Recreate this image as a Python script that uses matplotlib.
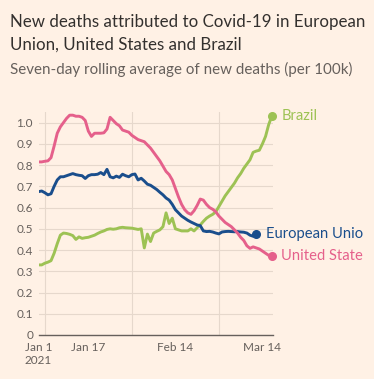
import matplotlib
matplotlib.use('Agg')
import matplotlib.pyplot as plt
import pandas as pd

# ── data (seven-day rolling average of new deaths per 100k, daily from Jan 1 2021) ──
us = [0.815, 0.815, 0.818, 0.82, 0.835, 0.89, 0.95, 0.98, 1.0, 1.02,
      1.035, 1.035, 1.03, 1.03, 1.025, 1.01, 0.96, 0.935, 0.95, 0.95,
      0.95, 0.952, 0.97, 1.025, 1.01, 0.995, 0.985, 0.965, 0.96, 0.955,
      0.94, 0.93, 0.92, 0.915, 0.91, 0.895, 0.88, 0.86, 0.84, 0.82,
      0.795, 0.77, 0.755, 0.73, 0.69, 0.65, 0.615, 0.59, 0.575, 0.568,
      0.585, 0.61, 0.64, 0.635, 0.615, 0.6, 0.592, 0.58, 0.56, 0.545,
      0.53, 0.52, 0.51, 0.495, 0.48, 0.46, 0.445, 0.42, 0.408, 0.415,
      0.41, 0.405, 0.395, 0.385, 0.375, 0.37]
eu = [0.675, 0.678, 0.67, 0.66, 0.665, 0.7, 0.73, 0.745, 0.745, 0.75,
      0.755, 0.76, 0.755, 0.752, 0.75, 0.737, 0.75, 0.755, 0.755, 0.757,
      0.765, 0.755, 0.78, 0.745, 0.74, 0.748, 0.742, 0.757, 0.75, 0.745,
      0.755, 0.758, 0.73, 0.738, 0.725, 0.71, 0.705, 0.695, 0.685, 0.672,
      0.66, 0.645, 0.635, 0.615, 0.59, 0.575, 0.56, 0.55, 0.54, 0.532,
      0.525, 0.518, 0.515, 0.49, 0.487, 0.488, 0.485, 0.48, 0.476, 0.485,
      0.487, 0.488, 0.487, 0.486, 0.487, 0.485, 0.484, 0.48, 0.47, 0.465,
      0.475]
brazil = [0.33, 0.33, 0.338, 0.343, 0.35, 0.385, 0.43, 0.47, 0.48, 0.478,
          0.474, 0.468, 0.45, 0.462, 0.455, 0.458, 0.46, 0.465, 0.47, 0.478,
          0.485, 0.49, 0.497, 0.5, 0.498, 0.5, 0.505, 0.507, 0.505, 0.504,
          0.503, 0.5, 0.497, 0.5, 0.41, 0.475, 0.44, 0.48, 0.488, 0.495,
          0.51, 0.575, 0.525, 0.55, 0.5, 0.495, 0.49, 0.49, 0.49, 0.5,
          0.49, 0.505, 0.518, 0.535, 0.55, 0.56, 0.568, 0.58, 0.605, 0.63,
          0.655, 0.675, 0.695, 0.715, 0.74, 0.76, 0.785, 0.805, 0.825, 0.86,
          0.866, 0.87, 0.9, 0.935, 0.99, 1.03]

series = [('Brazil', brazil, '#9dc254'),
          ('European Unio', eu, '#1a4e8c'),
          ('United State', us, '#e5608b')]

BG = '#fff1e5'
GRID = '#e6d8cc'
TXT = '#33302e'
MUTED = '#66605c'

plt.rcParams['font.family'] = ['Lato', 'DejaVu Sans']

fig = plt.figure(figsize=(3.74, 3.79), dpi=100, facecolor=BG)
ax = fig.add_axes([0.1032, 0.1161, 0.6276, 0.5884], facecolor=BG)

start = pd.Timestamp('2021-01-01')
for name, vals, col in series:
    d = pd.date_range(start, periods=len(vals), freq='D')
    ax.plot(d, vals, color=col, lw=2.1, solid_capstyle='round', zorder=3)
    ax.plot(d[-1], vals[-1], 'o', color=col, ms=5.5, zorder=4, clip_on=False)
    ax.annotate(name, (d[-1], vals[-1]), xytext=(7, 0), textcoords='offset points',
                va='center', ha='left', fontsize=10.6, color=col,
                annotation_clip=False)

ax.set_xlim(start, pd.Timestamp('2021-03-17 12:00'))
ax.set_ylim(0, 1.05)
ax.set_yticks([i / 10 for i in range(11)])
ax.set_yticklabels(['0'] + [f'{i / 10:.1f}' for i in range(1, 11)])

ax.set_xticks(pd.to_datetime(['2021-01-01', '2021-01-17', '2021-02-14', '2021-03-14']))
ax.set_xticklabels(['Jan 1\n2021', 'Jan 17', 'Feb 14', 'Mar 14'])
ax.set_xticks(pd.date_range('2021-01-03', '2021-03-14', freq='14D'), minor=True)

ax.grid(False)
ax.yaxis.grid(True, color=GRID, lw=0.8, zorder=0)
ax.xaxis.grid(True, which='minor', color=GRID, lw=0.8, zorder=0)
ax.tick_params(axis='both', which='both', length=0, labelsize=8.5, labelcolor=MUTED)
ax.tick_params(axis='y', pad=4)
ax.tick_params(axis='x', pad=5)
for lbl in ax.get_xticklabels():
    lbl.set_multialignment('center')

for s in ['top', 'right', 'left']:
    ax.spines[s].set_visible(False)
ax.spines['bottom'].set_color(MUTED)
ax.spines['bottom'].set_linewidth(1.0)

fig.text(0.027, 0.941, 'New deaths attributed to Covid-19 in European',
         ha='left', va='center', fontsize=12.2, color=TXT)
fig.text(0.027, 0.882, 'Union, United States and Brazil',
         ha='left', va='center', fontsize=12.2, color=TXT)
fig.text(0.027, 0.818, 'Seven-day rolling average of new deaths (per 100k)',
         ha='left', va='center', fontsize=10.9, color=MUTED)

fig.savefig('out.png', dpi=100, facecolor=BG)
